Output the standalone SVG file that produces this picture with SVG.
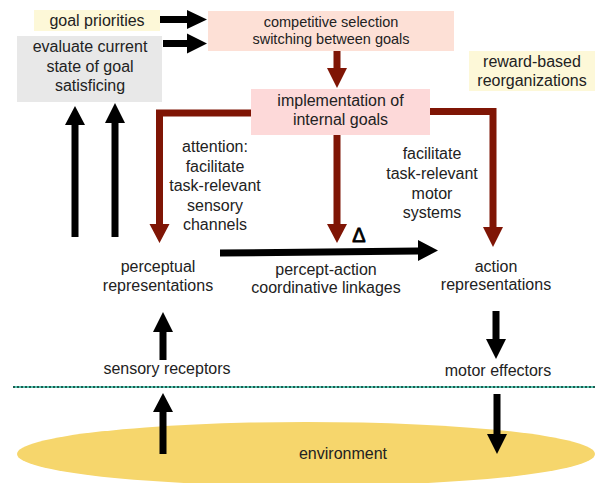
<svg xmlns="http://www.w3.org/2000/svg" width="595" height="483" viewBox="0 0 595 483">
<style>
text{font-family:"Liberation Sans",Arial,sans-serif;font-size:16px;fill:#222;text-anchor:middle}
.sm{font-size:14.5px}
.blk{fill:#000}
.red{fill:#7f1505}
</style>
<rect width="595" height="483" fill="#fff"/>
<g id="environment">
<ellipse cx="306" cy="454" rx="289" ry="32" fill="#f6d66c"/>
<text x="343" y="459">environment</text>
</g>
<g id="boundary">
<line x1="13" y1="387" x2="595" y2="387" stroke="#22b59a" stroke-width="1.5"/>
<line x1="13" y1="387" x2="595" y2="387" stroke="#0a3a30" stroke-width="1.5" stroke-dasharray="2 2"/>
</g>
<g id="goal-priorities">
<rect x="34" y="10" width="126" height="21" fill="#fdf8d8"/>
<text x="97" y="26">goal priorities</text>
</g>
<g id="evaluate">
<rect x="17" y="36" width="145" height="66" fill="#e8e8e8"/>
<text x="90" y="52">evaluate current</text>
<text x="90" y="72">state of goal</text>
<text x="90" y="91">satisficing</text>
</g>
<g id="competitive">
<rect x="208" y="11" width="246" height="40" fill="#fde0d6"/>
<text class="sm" x="331" y="27">competitive selection</text>
<text class="sm" x="331" y="44">switching between goals</text>
</g>
<g id="implementation">
<rect x="251" y="89" width="179" height="46" fill="#fdd9d9"/>
<text x="340.5" y="106">implementation of</text>
<text x="340.5" y="125">internal goals</text>
</g>
<g id="reward">
<rect x="469" y="51" width="126" height="40" fill="#fdf8d8"/>
<text x="532" y="67">reward-based</text>
<text x="532" y="86">reorganizations</text>
</g>
<g id="attention-label">
<text x="215" y="152">attention:</text>
<text x="215" y="172">facilitate</text>
<text x="215" y="191">task-relevant</text>
<text x="215" y="211">sensory</text>
<text x="215" y="230">channels</text>
</g>
<g id="motor-label">
<text x="432" y="159">facilitate</text>
<text x="432" y="179">task-relevant</text>
<text x="432" y="199">motor</text>
<text x="432" y="218">systems</text>
</g>
<g id="perceptual">
<text x="158" y="272">perceptual</text>
<text x="158" y="291">representations</text>
</g>
<g id="linkage-label">
<text x="326" y="275">percept-action</text>
<text x="326" y="293">coordinative linkages</text>
<text x="359" y="242" style="font-size:20px;fill:#000;stroke:#000;stroke-width:0.8">Δ</text>
</g>
<g id="action">
<text x="496" y="272">action</text>
<text x="496" y="290">representations</text>
</g>
<g id="sensory">
<text x="167" y="374">sensory receptors</text>
</g>
<g id="motor">
<text x="498" y="376">motor effectors</text>
</g>
<g id="connectors">
<path class="blk" d="M160,16 L187,16 L187,10 L207,19.5 L187,29 L187,23 L160,23 Z"/>
<path class="blk" d="M163,40 L187,40 L187,33.5 L207,43.5 L187,53.5 L187,47 L163,47 Z"/>
<path class="blk" d="M71.5,237 L71.5,125 L65,125 L75,106 L85,125 L78.5,125 L78.5,237 Z"/>
<path class="blk" d="M111.5,237 L111.5,123 L105,123 L115,103 L125,123 L118.5,123 L118.5,237 Z"/>
<path class="blk" d="M220,249.5 L418,247.5 L418,240 L438,250.5 L418,261 L418,254.5 L220,256.5 Z"/>
<path class="blk" d="M159.5,360 L159.5,332 L153,332 L163,312 L173,332 L166.5,332 L166.5,360 Z"/>
<path class="blk" d="M159.5,454 L159.5,412 L153,412 L163,393 L173,412 L166.5,412 L166.5,454 Z"/>
<path class="blk" d="M492.5,311 L499.5,311 L499.5,339 L506,339 L496,359 L486,339 L492.5,339 Z"/>
<path class="blk" d="M493.5,394 L500.5,394 L500.5,434 L507,434 L497,454 L487,434 L493.5,434 Z"/>
<path class="red" d="M333.5,51 L340.5,51 L340.5,68 L347,68 L337,88 L327,68 L333.5,68 Z"/>
<path class="red" d="M333.5,135 L340.5,135 L340.5,224 L347,224 L337,243 L327,224 L333.5,224 Z"/>
<path class="red" d="M251,109.5 L156,109.5 L156,224 L149.5,224 L159.5,243 L169.5,224 L163,224 L163,116.5 L251,116.5 Z"/>
<path class="red" d="M430,108 L496.5,108 L496.5,227 L503,227 L493,247 L483,227 L489.5,227 L489.5,115 L430,115 Z"/>
</g>
</svg>
